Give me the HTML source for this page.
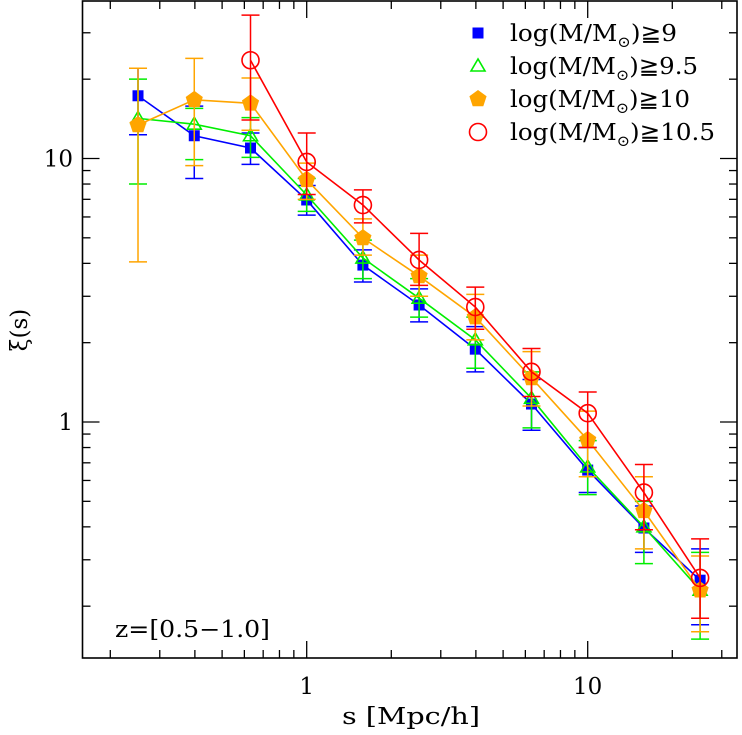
<!DOCTYPE html>
<html><head><meta charset="utf-8"><style>
body{margin:0;background:#fff;}
svg text{font-family:"DejaVu Serif","Liberation Serif",serif;}
</style></head><body>
<svg id="chart" width="742" height="730" viewBox="0 0 742 730" xmlns="http://www.w3.org/2000/svg"></svg>
<script>
const sVals=[0.251,0.398,0.631,1,1.585,2.512,3.981,6.31,10,15.85,25.12];
const blueVals=[17.3,12.2,10.96,6.96,3.94,2.78,1.89,1.17,0.657,0.396,0.251];
const blueLo=[12.3,8.4,9.5,6.1,3.4,2.4,1.55,0.93,0.54,0.32,0.17];
const blueHi=[22,15.8,12.5,7.9,4.5,3.2,2.3,1.45,0.8,0.48,0.33];
const greenVals=[14.2,13.5,12.2,7.27,4.19,2.95,2.05,1.23,0.675,0.40,0.23];
const greenLo=[8,9.9,10.1,6.3,3.5,2.5,1.6,0.95,0.53,0.29,0.15];
const greenHi=[20,15.5,14.3,8.4,4.9,3.5,2.5,1.55,0.85,0.5,0.32];
const orangeVals=[13.4,16.7,16.2,8.3,4.99,3.58,2.5,1.47,0.855,0.46,0.23];
const orangeLo=[4.05,9.4,12.8,7.0,4.3,3.0,2.05,1.15,0.62,0.33,0.16];
const orangeHi=[22,24,20.2,9.6,5.9,4.3,3.05,1.85,1.1,0.62,0.31];
const redS=[0.631,1,1.585,2.512,3.981,6.31,10,15.85,25.12];
const redVals=[23.6,9.7,6.66,4.12,2.73,1.55,1.08,0.54,0.256];
const redLo=[14,7.3,5.7,3.3,2.25,1.25,0.8,0.39,0.18];
const redHi=[35,12.5,7.6,5.2,3.25,1.9,1.3,0.69,0.36];
const xTickLabels=["1","10"];
const yTickLabels=["1","10"];

const L=82.5,R=737,T=1,B=658;
const X=v=>306.7+281*Math.log10(v);
const Y=v=>422-263.5*Math.log10(v);
const svg=document.getElementById('chart');
const NS="http://www.w3.org/2000/svg";
function mk(tag,attrs,parent){const e=document.createElementNS(NS,tag);for(const k in attrs)e.setAttribute(k,attrs[k]);(parent||svg).appendChild(e);return e;}

const frame=mk('rect',{x:L,y:T,width:R-L,height:B-T,fill:'none',stroke:'#000','stroke-width':1.6});



const xt=mk('g',{stroke:'#000','stroke-width':1.3});


for(let d=-1;d<=1;d++){for(let m=1;m<=9;m++){const v=m*Math.pow(10,d);const x=X(v);if(x<L||x>R)continue;const len=m===1?17:8;
mk('line',{x1:x,y1:B,x2:x,y2:B-len},xt);mk('line',{x1:x,y1:T,x2:x,y2:T+len},xt);}}
const yt=mk('g',{stroke:'#000','stroke-width':1.3});


for(let d=-1;d<=1;d++){for(let m=1;m<=9;m++){const v=m*Math.pow(10,d);const y=Y(v);if(y<T||y>B)continue;const len=m===1?17:8;
mk('line',{x1:L,y1:y,x2:L+len,y2:y},yt);mk('line',{x1:R,y1:y,x2:R-len,y2:y},yt);}}
[1,10].forEach((v,i)=>{const t=mk('text',{x:X(v),y:694,'text-anchor':'middle','font-size':23});t.textContent=xTickLabels[i];

});
[1,10].forEach((v,i)=>{const t=mk('text',{x:73,y:Y(v)+8,'text-anchor':'end','font-size':23});t.textContent=yTickLabels[i];

});
const xtitle=mk('text',{x:342,y:724,'font-size':23,textLength:138,lengthAdjust:'spacingAndGlyphs'});xtitle.textContent='s [Mpc/h]';


const ytitle=mk('text',{x:0,y:0,'text-anchor':'middle','font-size':23,transform:'translate(27,330) rotate(-90)'});ytitle.textContent='ξ(s)';


const zlab=mk('text',{x:115,y:637,'font-size':23,textLength:155,lengthAdjust:'spacingAndGlyphs'});zlab.textContent='z=[0.5−1.0]';



function marker(g,type,x,y,color){
 if(type==='square')mk('rect',{x:x-5.5,y:y-5.5,width:11,height:11,fill:color},g);
 else if(type==='tri')mk('polygon',{points:`${x},${y-7} ${x-7},${y+5} ${x+7},${y+5}`,fill:'none',stroke:color,'stroke-width':1.6},g);
 else if(type==='pent'){let p=[];for(let k=0;k<5;k++){const a=-Math.PI/2+k*2*Math.PI/5;p.push((x+9*Math.cos(a)).toFixed(1)+','+(y+9*Math.sin(a)).toFixed(1));}mk('polygon',{points:p.join(' '),fill:color},g);}
 else mk('circle',{cx:x,cy:y,r:8.5,fill:'none',stroke:color,'stroke-width':1.6},g);
}
function series(name,xs,vals,lo,hi,color,type){
 const g=mk('g',{});
 
 
 for(let i=0;i<xs.length;i++){const x=X(xs[i]);
  mk('line',{x1:x,y1:Y(lo[i]),x2:x,y2:Y(hi[i]),stroke:color,'stroke-width':1.5},g);
  mk('line',{x1:x-9,y1:Y(lo[i]),x2:x+9,y2:Y(lo[i]),stroke:color,'stroke-width':1.5},g);
  mk('line',{x1:x-9,y1:Y(hi[i]),x2:x+9,y2:Y(hi[i]),stroke:color,'stroke-width':1.5},g);}
 mk('polyline',{points:xs.map((s,i)=>X(s)+','+Y(vals[i])).join(' '),fill:'none',stroke:color,'stroke-width':1.6},g);
 xs.forEach((s,i)=>marker(g,type,X(s),Y(vals[i]),color));
}
series('series-mass-9',sVals,blueVals,blueLo,blueHi,'#0000ff','square');
series('series-mass-9-5',sVals,greenVals,greenLo,greenHi,'#00ee00','tri');
series('series-mass-10',sVals,orangeVals,orangeLo,orangeHi,'#ffa500','pent');
series('series-mass-10-5',redS,redVals,redLo,redHi,'#ff0000','circle');

const leg=[['square','#0000ff','9',167],['tri','#00ee00','9.5',188],['pent','#ffa500','10',180],['circle','#ff0000','10.5',205]];
leg.forEach((e,i)=>{const y=33+33*i;const g=mk('g',{});
 
 
 marker(g,e[0],478,y,e[1]);
 const t=mk('text',{x:510,y:y+8,'font-size':23,textLength:e[3],lengthAdjust:'spacingAndGlyphs'},g);
 t.innerHTML='log(M/M<tspan font-size="15" dy="6">⊙</tspan><tspan dy="-6">)≧'+e[2]+'</tspan>';
});
</script>
</body></html>
